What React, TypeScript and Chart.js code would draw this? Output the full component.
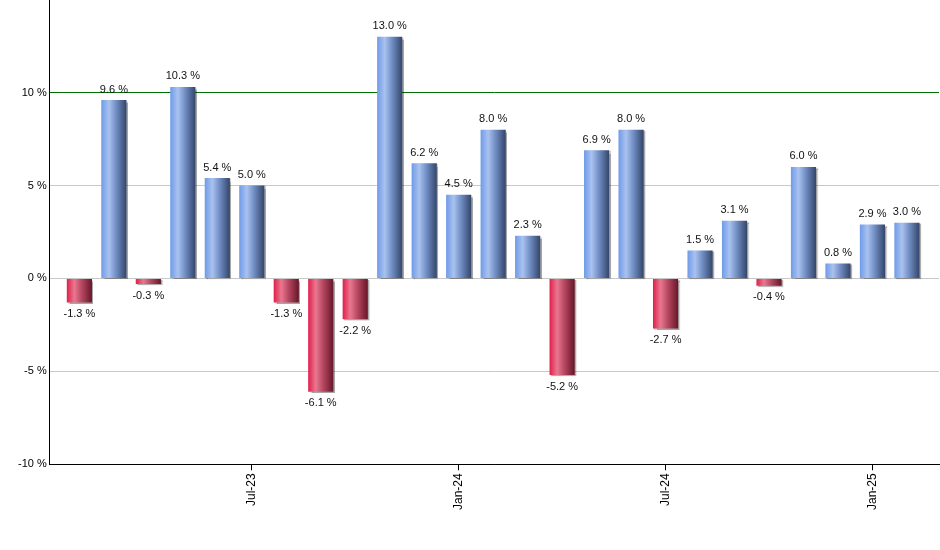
import React, { useEffect, useRef } from "react";
import { Chart, registerables } from "chart.js";

Chart.register(...registerables);

const months: string[] = [
  "Feb-23", "Mar-23", "Apr-23", "May-23", "Jun-23", "Jul-23", "Aug-23", "Sep-23", "Oct-23", "Nov-23",
  "Dec-23", "Jan-24", "Feb-24", "Mar-24", "Apr-24", "May-24", "Jun-24", "Jul-24", "Aug-24", "Sep-24",
  "Oct-24", "Nov-24", "Dec-24", "Jan-25", "Feb-25",
];
const returns: number[] = [
  -1.3, 9.6, -0.3, 10.3, 5.4, 5.0, -1.3, -6.1, -2.2, 13.0,
  6.2, 4.5, 8.0, 2.3, -5.2, 6.9, 8.0, -2.7, 1.5, 3.1,
  -0.4, 6.0, 0.8, 2.9, 3.0,
];
const xTickLabels: string[] = ["Jul-23", "Jan-24", "Jul-24", "Jan-25"];
const yTicks: number[] = [-10, -5, 0, 5, 10, 15];

const FONT = "'Liberation Sans', Arial, sans-serif";

function barGradient(context: any) {
  const chart = context.chart;
  const xs = chart.scales && chart.scales.x;
  if (!xs || !chart.chartArea || context.type !== "data") return "#7aa3f0";
  const raw = context.raw as { x: number; y: number };
  const cx = xs.getPixelForValue(raw.x);
  const half = 12.6;
  const g = chart.ctx.createLinearGradient(cx - half, 0, cx + half, 0);
  if (raw.y >= 0) {
    g.addColorStop(0, "#6f9ae9");
    g.addColorStop(0.3, "#a9c2ef");
    g.addColorStop(0.6, "#6f8cc2");
    g.addColorStop(1, "#33456a");
  } else {
    g.addColorStop(0, "#e01f4b");
    g.addColorStop(0.3, "#e9778f");
    g.addColorStop(0.6, "#b54660");
    g.addColorStop(1, "#661628");
  }
  return g;
}

const barDecor = {
  id: "barDecor",
  beforeDatasetsDraw(chart: any) {
    const c = chart.ctx;
    c.save();
    c.shadowColor = "rgba(0,0,0,0.35)";
    c.shadowOffsetX = 1.5;
    c.shadowOffsetY = 1;
    c.shadowBlur = 1;
  },
  afterDatasetsDraw(chart: any) {
    const c = chart.ctx;
    c.restore();
    c.save();
    c.font = `11px ${FONT}`;
    c.fillStyle = "#111";
    c.textAlign = "center";
    const meta = chart.getDatasetMeta(0);
    meta.data.forEach((el: any, i: number) => {
      const v = returns[i];
      const txt = `${v.toFixed(1)} %`;
      if (v >= 0) {
        c.textBaseline = "bottom";
        c.fillText(txt, el.x, el.y - 5);
      } else {
        c.textBaseline = "top";
        c.fillText(txt, el.x, el.y + 6);
      }
    });
    c.restore();
  },
};

export default function App() {
  const ref = useRef<HTMLCanvasElement | null>(null);

  useEffect(() => {
    if (!ref.current) return;
    const tickIdx = months
      .map((m, i) => (xTickLabels.includes(m) ? i : -1))
      .filter((i) => i >= 0);
    const chart = new Chart(ref.current, {
      type: "bar",
      data: {
        datasets: [
          {
            data: returns.map((v, i) => ({ x: i, y: v })),
            backgroundColor: barGradient,
            borderWidth: 0,
            barPercentage: 0.73,
            categoryPercentage: 1,
          },
        ],
      },
      options: {
        responsive: false,
        animation: false,
        events: [],
        layout: { padding: { left: 15, right: 1, top: 0, bottom: 37 } },
        plugins: {
          legend: { display: false },
          tooltip: { enabled: false },
        },
        scales: {
          x: {
            type: "linear",
            offset: false,
            min: -0.86,
            max: 24.93,
            afterBuildTicks: (scale: any) => {
              scale.ticks = tickIdx.map((v) => ({ value: v }));
            },
            ticks: {
              autoSkip: false,
              maxRotation: 90,
              minRotation: 90,
              padding: 3,
              color: "#000",
              font: { family: FONT, size: 12 },
              callback: (v: any) => months[Math.round(Number(v))] ?? "",
            },
            grid: {
              display: true,
              offset: false,
              drawOnChartArea: false,
              drawTicks: true,
              tickLength: 6,
              color: "#000",
            },
            border: { display: true, color: "#000", width: 1 },
          },
          y: {
            min: -10,
            max: 15,
            afterBuildTicks: (scale: any) => {
              scale.ticks = yTicks.map((v) => ({ value: v }));
            },
            ticks: {
              padding: 3,
              color: "#000",
              font: { family: FONT, size: 11 },
              callback: (v: any) => (Number(v) === 15 ? null : `${v} %`),
            },
            grid: {
              drawTicks: false,
              color: (ctx: any) => {
                const v = ctx.tick && ctx.tick.value;
                if (v === 10) return "#007000";
                if (v === -10) return "#000";
                return "#c8c8c8";
              },
            },
            border: { display: true, color: "#000", width: 1 },
          },
        },
      },
      plugins: [barDecor],
    });
    return () => chart.destroy();
  }, []);

  return (
    <div style={{ position: "absolute", left: 0, top: -10, width: 940, height: 560, background: "#fff", overflow: "hidden" }}>
      <canvas ref={ref} width={940} height={560} style={{ display: "block" }} />
    </div>
  );
}
